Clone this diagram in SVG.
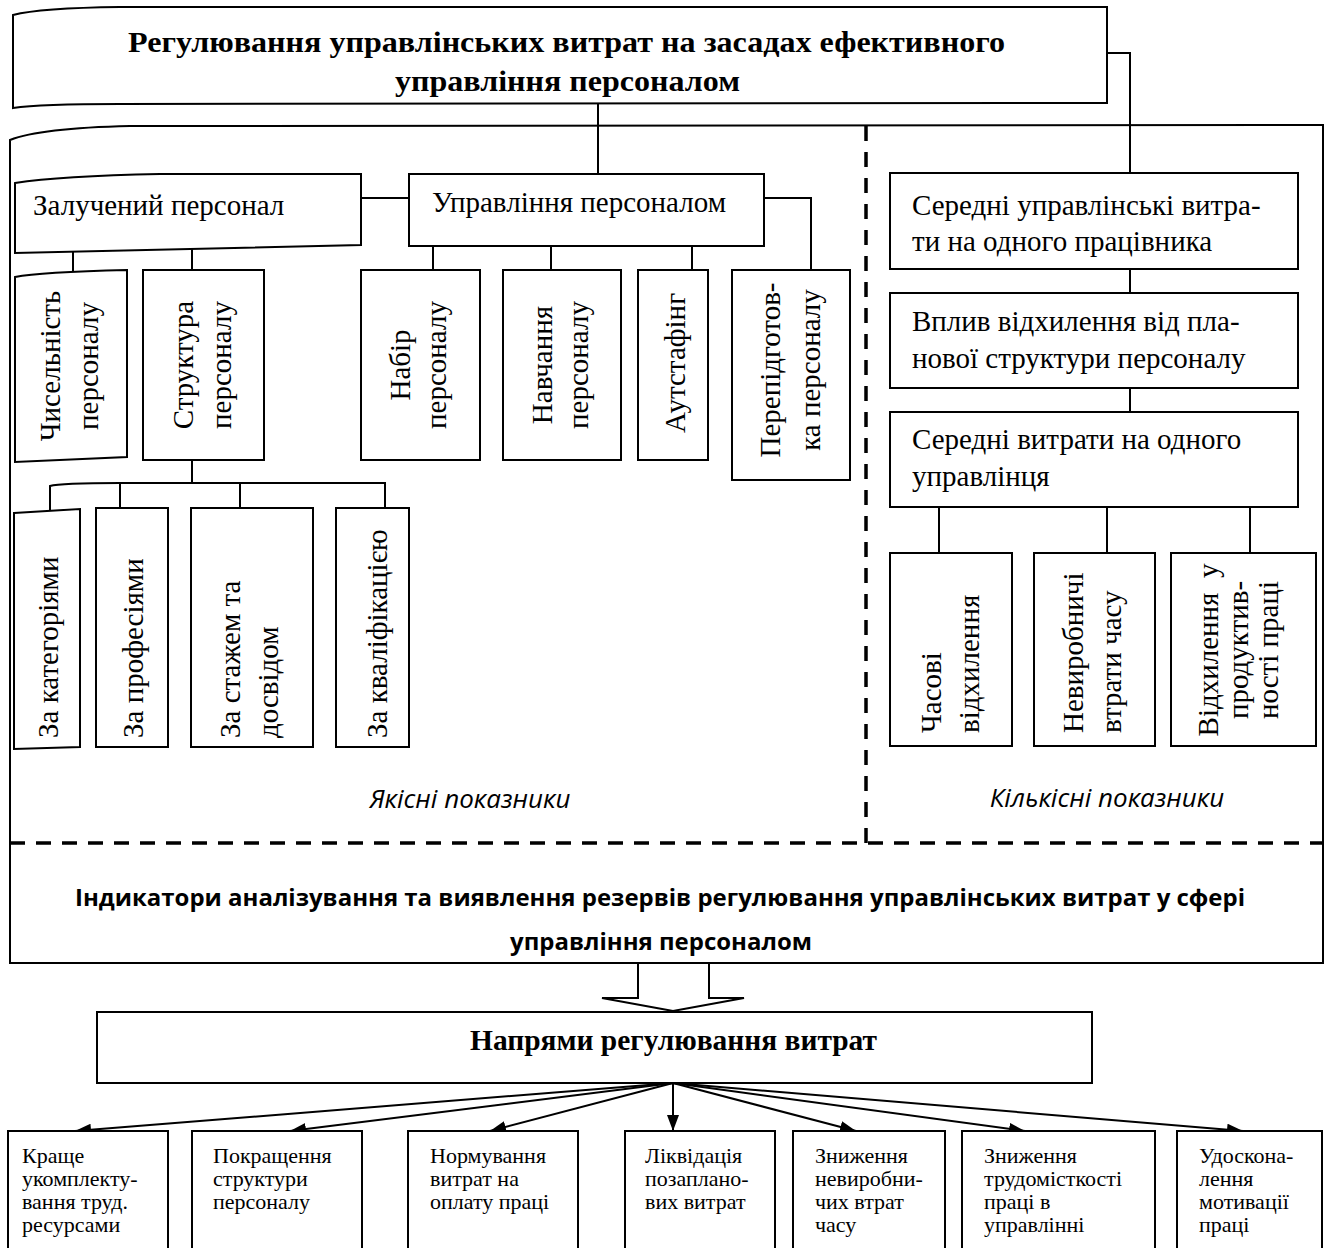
<svg xmlns="http://www.w3.org/2000/svg" width="1330" height="1248" viewBox="0 0 1330 1248">
<style>
.box{fill:#fff;stroke:#000;stroke-width:2}
.ln{fill:none;stroke:#000;stroke-width:2}
.dash{fill:none;stroke:#000;stroke-width:3.5;stroke-dasharray:15 11}
.t{font-family:"Liberation Serif","Times New Roman",serif;font-size:29px;fill:#000}
.ts{font-family:"Liberation Serif","Times New Roman",serif;font-size:22px;fill:#000}
.tb{font-family:"Liberation Serif","Times New Roman",serif;font-size:30px;font-weight:bold;fill:#000}
.ti{font-family:"Open Sans","Liberation Sans",sans-serif;font-size:26px;font-style:italic;fill:#000}
.tind{font-family:"Open Sans","Liberation Sans",sans-serif;font-size:23px;font-weight:bold;fill:#000}
</style>
<defs>
<marker id="ah" markerWidth="16" markerHeight="12" refX="16" refY="6" orient="auto" markerUnits="userSpaceOnUse">
<path d="M0,0 L16,6 L0,12 Z" fill="#000"/>
</marker>
</defs>
<rect width="1330" height="1248" fill="#fff"/>

<g id="frame">
<path class="box" d="M10,140 Q40,128 130,126 L1323,125 L1323,963 L10,963 Z"/>
<line class="dash" x1="866" y1="126" x2="866" y2="843"/>
<line class="dash" x1="10" y1="843" x2="1323" y2="843"/>
<text class="ti" x="470" y="808" text-anchor="middle">Якісні показники</text>
<text class="ti" x="1107" y="807" text-anchor="middle">Кількісні показники</text>
<text class="tind" x="75" y="906" textLength="1170" lengthAdjust="spacingAndGlyphs">Індикатори аналізування та виявлення резервів регулювання управлінських витрат у сфері</text>
<text class="tind" x="510" y="950" textLength="302" lengthAdjust="spacingAndGlyphs">управління персоналом</text>
</g>

<g id="connectors">
<polyline class="ln" points="1107,53 1130,53 1130,173"/>
<line class="ln" x1="598" y1="104" x2="598" y2="174"/>
<line class="ln" x1="361" y1="198" x2="409" y2="198"/>
<polyline class="ln" points="764,198 811,198 811,270"/>
<line class="ln" x1="433" y1="246" x2="433" y2="270"/>
<line class="ln" x1="551" y1="246" x2="551" y2="270"/>
<line class="ln" x1="692" y1="246" x2="692" y2="270"/>
<line class="ln" x1="73" y1="248" x2="73" y2="271"/>
<line class="ln" x1="192" y1="246" x2="192" y2="270"/>
<line class="ln" x1="192" y1="460" x2="192" y2="483"/>
<path class="ln" d="M50,510 L50,486 Q60,483 120,483 L385,483 L385,508"/>
<line class="ln" x1="120" y1="483" x2="120" y2="508"/>
<line class="ln" x1="240" y1="483" x2="240" y2="508"/>
<line class="ln" x1="1130" y1="269" x2="1130" y2="293"/>
<line class="ln" x1="1130" y1="388" x2="1130" y2="412"/>
<line class="ln" x1="939" y1="507" x2="939" y2="553"/>
<line class="ln" x1="1107" y1="507" x2="1107" y2="553"/>
<line class="ln" x1="1250" y1="507" x2="1250" y2="553"/>
<path class="ln" d="M638,963 L638,998 L602,998 L673,1011 L744,998 L709,998 L709,963" fill="#fff"/>
<line class="ln" x1="673" y1="1083" x2="75" y2="1131" marker-end="url(#ah)"/>
<line class="ln" x1="673" y1="1083" x2="290" y2="1131" marker-end="url(#ah)"/>
<line class="ln" x1="673" y1="1083" x2="490" y2="1131" marker-end="url(#ah)"/>
<line class="ln" x1="673" y1="1083" x2="673" y2="1131" marker-end="url(#ah)"/>
<line class="ln" x1="673" y1="1083" x2="856" y2="1131" marker-end="url(#ah)"/>
<line class="ln" x1="673" y1="1083" x2="1025" y2="1131" marker-end="url(#ah)"/>
<line class="ln" x1="673" y1="1083" x2="1243" y2="1131" marker-end="url(#ah)"/>
</g>

<g id="title">
<path class="box" d="M13,15 Q40,8 120,7 L1107,7 L1107,103 L120,104 Q40,104 13,108 Z"/>
<text class="tb" x="128" y="52" textLength="877" lengthAdjust="spacingAndGlyphs">Регулювання управлінських витрат на засадах ефективного</text>
<text class="tb" x="395" y="91" textLength="345" lengthAdjust="spacingAndGlyphs">управління персоналом</text>
</g>

<g id="zaluchenyi">
<path class="box" d="M15,183 Q60,176 160,174 L361,174 L361,245 L15,253 Z"/>
<text class="t" x="33" y="215">Залучений персонал</text>
</g>
<g id="upravlinnia">
<rect class="box" x="409" y="174" width="355" height="72"/>
<text class="t" x="432" y="212">Управління персоналом</text>
</g>

<g id="chyselnist">
<path class="box" d="M15,277 Q40,272 127,270 L127,457 L15,462 Z"/>
<text class="t" transform="translate(60,366) rotate(-90)" text-anchor="middle"><tspan x="0" y="0">Чисельність</tspan><tspan x="0" y="38">персоналу</tspan></text>
</g>
<g id="struktura">
<rect class="box" x="143" y="270" width="121" height="190"/>
<text class="t" transform="translate(193,365) rotate(-90)" text-anchor="middle"><tspan x="0" y="0">Структура</tspan><tspan x="0" y="38">персоналу</tspan></text>
</g>
<g id="nabir">
<rect class="box" x="361" y="270" width="119" height="190"/>
<text class="t" transform="translate(410,365) rotate(-90)" text-anchor="middle"><tspan x="0" y="0">Набір</tspan><tspan x="0" y="36">персоналу</tspan></text>
</g>
<g id="navchannia">
<rect class="box" x="503" y="270" width="118" height="190"/>
<text class="t" transform="translate(552,365) rotate(-90)" text-anchor="middle"><tspan x="0" y="0">Навчання</tspan><tspan x="0" y="36">персоналу</tspan></text>
</g>
<g id="autstafing">
<rect class="box" x="638" y="270" width="70" height="190"/>
<text class="t" transform="translate(685,363) rotate(-90)" text-anchor="middle">Аутстафінг</text>
</g>
<g id="perepidgotovka">
<rect class="box" x="732" y="270" width="118" height="210"/>
<text class="t" transform="translate(780,370) rotate(-90)" text-anchor="middle"><tspan x="0" y="0">Перепідготов-</tspan><tspan x="0" y="40">ка персоналу</tspan></text>
</g>

<g id="za-katehoriiamy">
<path class="box" d="M14,513 L80,509 L80,747 L14,749 Z"/>
<text class="t" transform="translate(58,738) rotate(-90)">За категоріями</text>
</g>
<g id="za-profesiiamy">
<rect class="box" x="96" y="508" width="72" height="239"/>
<text class="t" transform="translate(143,738) rotate(-90)">За професіями</text>
</g>
<g id="za-stazhem">
<rect class="box" x="191" y="508" width="122" height="239"/>
<text class="t" transform="translate(240,738) rotate(-90)"><tspan x="0" y="0">За стажем та</tspan><tspan x="0" y="38">досвідом</tspan></text>
</g>
<g id="za-kvalifikatsiieiu">
<rect class="box" x="336" y="508" width="73" height="239"/>
<text class="t" transform="translate(387,738) rotate(-90)">За кваліфікацією</text>
</g>

<g id="seredni-upr">
<rect class="box" x="890" y="173" width="408" height="96"/>
<text class="t" x="912" y="215">Середні управлінські витра-</text>
<text class="t" x="912" y="251">ти на одного працівника</text>
</g>
<g id="vplyv">
<rect class="box" x="890" y="293" width="408" height="95"/>
<text class="t" x="912" y="331">Вплив відхилення від пла-</text>
<text class="t" x="912" y="368">нової структури персоналу</text>
</g>
<g id="seredni-vytraty">
<rect class="box" x="890" y="412" width="408" height="95"/>
<text class="t" x="912" y="449">Середні витрати на одного</text>
<text class="t" x="912" y="486">управлінця</text>
</g>
<g id="chasovi">
<rect class="box" x="890" y="553" width="122" height="193"/>
<text class="t" transform="translate(941,733) rotate(-90)"><tspan x="0" y="0">Часові</tspan><tspan x="0" y="38">відхилення</tspan></text>
</g>
<g id="nevyrobnychi">
<rect class="box" x="1034" y="553" width="121" height="193"/>
<text class="t" transform="translate(1083,733) rotate(-90)"><tspan x="0" y="0">Невиробничі</tspan><tspan x="0" y="38">втрати часу</tspan></text>
</g>
<g id="vidkhylennia">
<rect class="box" x="1171" y="553" width="145" height="193"/>
<text class="t" transform="translate(1218,650) rotate(-90)" text-anchor="middle" xml:space="preserve"><tspan x="0" y="0">Відхилення  у</tspan><tspan x="0" y="30">продуктив-</tspan><tspan x="0" y="60">ності праці</tspan></text>
</g>

<g id="napriamy">
<rect class="box" x="97" y="1012" width="995" height="71"/>
<text class="tb" x="470" y="1050" textLength="407" lengthAdjust="spacingAndGlyphs">Напрями регулювання витрат</text>
</g>

<g id="b1">
<rect class="box" x="8" y="1131" width="160" height="130"/>
<text class="ts"><tspan x="22" y="1163">Краще</tspan><tspan x="22" y="1186">укомплекту-</tspan><tspan x="22" y="1209">вання труд.</tspan><tspan x="22" y="1232">ресурсами</tspan></text>
</g>
<g id="b2">
<rect class="box" x="192" y="1131" width="170" height="130"/>
<text class="ts"><tspan x="213" y="1163">Покращення</tspan><tspan x="213" y="1186">структури</tspan><tspan x="213" y="1209">персоналу</tspan></text>
</g>
<g id="b3">
<rect class="box" x="408" y="1131" width="170" height="130"/>
<text class="ts"><tspan x="430" y="1163">Нормування</tspan><tspan x="430" y="1186">витрат на</tspan><tspan x="430" y="1209">оплату праці</tspan></text>
</g>
<g id="b4">
<rect class="box" x="625" y="1131" width="150" height="130"/>
<text class="ts"><tspan x="645" y="1163">Ліквідація</tspan><tspan x="645" y="1186">позаплано-</tspan><tspan x="645" y="1209">вих витрат</tspan></text>
</g>
<g id="b5">
<rect class="box" x="793" y="1131" width="152" height="130"/>
<text class="ts"><tspan x="815" y="1163">Зниження</tspan><tspan x="815" y="1186">невиробни-</tspan><tspan x="815" y="1209">чих втрат</tspan><tspan x="815" y="1232">часу</tspan></text>
</g>
<g id="b6">
<rect class="box" x="962" y="1131" width="193" height="130"/>
<text class="ts"><tspan x="984" y="1163">Зниження</tspan><tspan x="984" y="1186">трудомісткості</tspan><tspan x="984" y="1209">праці в</tspan><tspan x="984" y="1232">управлінні</tspan></text>
</g>
<g id="b7">
<rect class="box" x="1177" y="1131" width="145" height="130"/>
<text class="ts"><tspan x="1199" y="1163">Удоскона-</tspan><tspan x="1199" y="1186">лення</tspan><tspan x="1199" y="1209">мотивації</tspan><tspan x="1199" y="1232">праці</tspan></text>
</g>
</svg>
